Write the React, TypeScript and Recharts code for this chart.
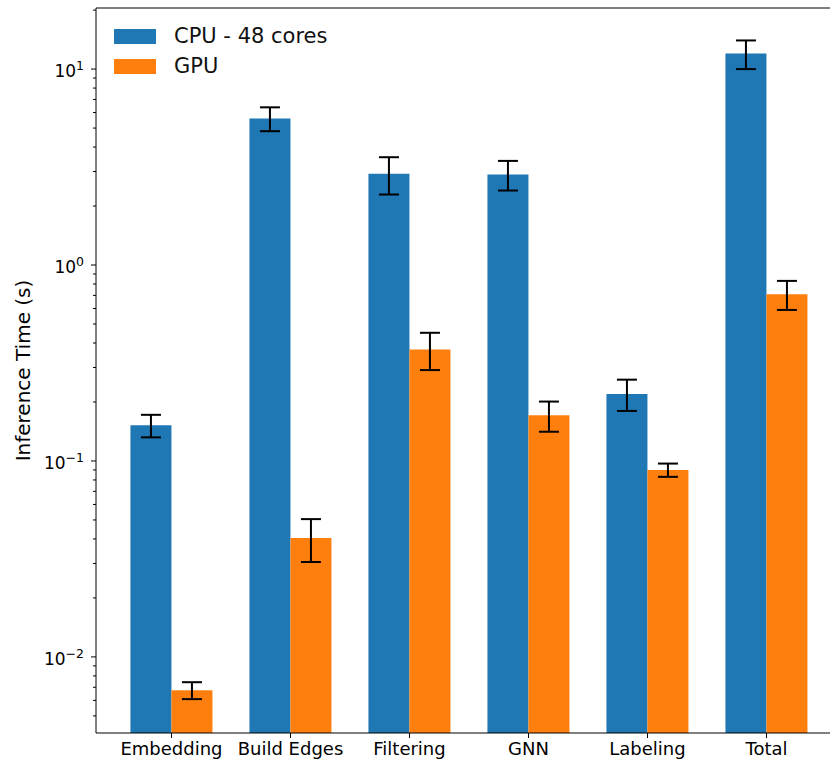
import { BarChart, Bar, XAxis, YAxis, ErrorBar, ReferenceLine } from 'recharts'

// values (seconds)
const categories = ['Embedding', 'Build Edges', 'Filtering', 'GNN', 'Labeling', 'Total']
const cpuTimes = [0.152, 5.6, 2.92, 2.9, 0.22, 12.0]
const cpuErrors = [0.02, 0.78, 0.63, 0.5, 0.04, 2.0]
const gpuTimes = [0.00676, 0.0405, 0.371, 0.171, 0.09, 0.71]
const gpuErrors = [0.00067, 0.01, 0.08, 0.03, 0.007, 0.12]

// log axis ticks: labelled decades and unlabelled minor ticks
const majorTicks = [0.01, 0.1, 1, 10]
const majorLabels = ['\u22122', '\u22121', '0', '1']
const minorTicks = [
  0.005, 0.006, 0.007, 0.008, 0.009,
  0.02, 0.03, 0.04, 0.05, 0.06, 0.07, 0.08, 0.09,
  0.2, 0.3, 0.4, 0.5, 0.6, 0.7, 0.8, 0.9,
  2, 3, 4, 5, 6, 7, 8, 9, 20,
]
const yDomain = [0.00409, 20.5]

const CPU_COLOR = '#1f77b4'
const GPU_COLOR = '#ff7f0e'
const FONT = '"DejaVu Sans", sans-serif'

const data = categories.map((name, i) => ({
  name,
  cpu: cpuTimes[i],
  cpuErr: cpuErrors[i],
  gpu: gpuTimes[i],
  gpuErr: gpuErrors[i],
}))

const LogTick = ({ x, y, payload }: any) => {
  const idx = majorTicks.indexOf(payload.value)
  const axisX = x + 8
  if (idx < 0) {
    return <line x1={axisX - 3} x2={axisX} y1={y} y2={y} stroke="#000" strokeWidth={1} />
  }
  return (
    <g>
      <line x1={axisX - 5} x2={axisX} y1={y} y2={y} stroke="#000" strokeWidth={1} />
      <text x={x - 4} y={y + 8} textAnchor="end" fontSize={17} fill="#000" fontFamily={FONT}>
        10
        <tspan dy={-7} fontSize={12.5}>{majorLabels[idx]}</tspan>
      </text>
    </g>
  )
}

export default function App() {
  return (
    <div
      style={{
        position: 'fixed',
        left: 0,
        top: 0,
        width: 830,
        height: 760,
        overflow: 'hidden',
        background: '#fff',
        fontFamily: FONT,
      }}
    >
      <BarChart
        width={850}
        height={760}
        data={data}
        margin={{ top: 8, right: 8, left: 0, bottom: 0 }}
        barCategoryGap="15.5%"
        barGap={0}
      >
        <XAxis
          dataKey="name"
          height={27}
          padding={{ left: 16, right: 16 }}
          axisLine={{ stroke: '#000', strokeWidth: 1 }}
          tickLine={{ stroke: '#000', strokeWidth: 1 }}
          tickSize={5}
          tickMargin={4}
          tick={{ fontSize: 18, fill: '#000', fontFamily: FONT }}
          interval={0}
        />
        <YAxis
          scale="log"
          type="number"
          domain={yDomain}
          allowDataOverflow
          width={96}
          ticks={[...majorTicks, ...minorTicks]}
          interval={0}
          tickSize={5}
          tickMargin={3}
          tickLine={false}
          tick={<LogTick />}
          axisLine={{ stroke: '#000', strokeWidth: 1 }}
          label={{
            value: 'Inference Time (s)',
            angle: -90,
            position: 'insideLeft',
            offset: 23,
            style: { textAnchor: 'middle', fontSize: 20, fill: '#000', fontFamily: FONT },
          }}
        />
        {/* top spine */}
        <ReferenceLine y={yDomain[1]} stroke="#000" strokeWidth={1} ifOverflow="visible" />
        <Bar dataKey="cpu" fill={CPU_COLOR} isAnimationActive={false}>
          <ErrorBar dataKey="cpuErr" width={10} stroke="#000" strokeWidth={2} direction="y" />
        </Bar>
        <Bar dataKey="gpu" fill={GPU_COLOR} isAnimationActive={false}>
          <ErrorBar dataKey="gpuErr" width={10} stroke="#000" strokeWidth={2} direction="y" />
        </Bar>
      </BarChart>

      <div style={{ position: 'absolute', left: 114, top: 21, fontSize: 21, color: '#111' }}>
        {[
          { label: 'CPU - 48 cores', color: CPU_COLOR },
          { label: 'GPU', color: GPU_COLOR },
        ].map((item) => (
          <div key={item.label} style={{ display: 'flex', alignItems: 'center', height: 30 }}>
            <div style={{ width: 42, height: 15, background: item.color, marginRight: 18 }} />
            <span>{item.label}</span>
          </div>
        ))}
      </div>
    </div>
  )
}
